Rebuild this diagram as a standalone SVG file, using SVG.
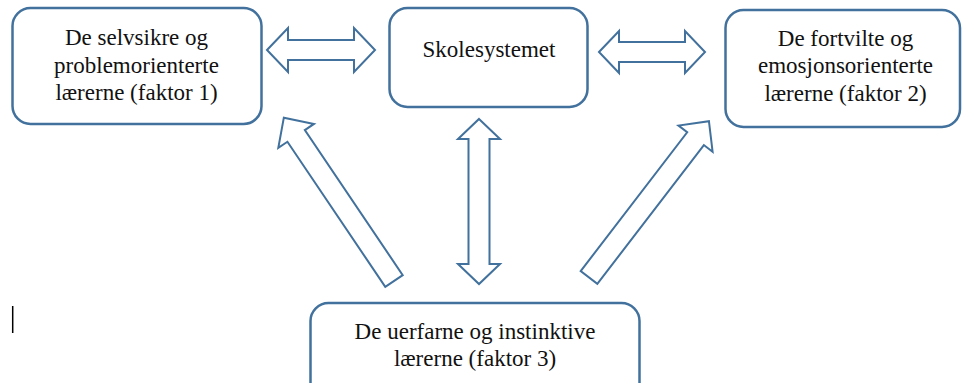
<svg xmlns="http://www.w3.org/2000/svg" width="962" height="383" viewBox="0 0 962 383">
<style>
.box{fill:#fff;stroke:#41719C;stroke-width:2.5}
.arr{fill:#fff;stroke:#41719C;stroke-width:2;stroke-linejoin:miter}
.t{font-family:"Liberation Serif","Times New Roman",serif;font-size:23px;fill:#111;text-anchor:middle}
</style>
<rect width="962" height="383" fill="#fff"/>
<g id="connectors">
<polygon class="arr" transform="translate(267,50)" points="0,0 21,-22 21,-10 87,-10 87,-22 108,0 87,22 87,10 21,10 21,22"/>
<polygon class="arr" transform="translate(599,52)" points="0,0 20,-21 20,-10 86,-10 86,-21 106,0 86,21 86,10 20,10 20,21"/>
<polygon class="arr" points="479,119 500,139 489.5,139 489.5,264 500,264 479,284 458,264 468.5,264 468.5,139 458,139"/>
<polygon class="arr" transform="translate(394,281) rotate(-124)" points="0,-10.5 175,-10.5 175,-21.5 197,0 175,21.5 175,10.5 0,10.5"/>
<polygon class="arr" transform="translate(589,277.5) rotate(-52.5)" points="0,-10.5 175,-10.5 175,-21.5 197,0 175,21.5 175,10.5 0,10.5"/>
</g>
<g id="faktor1">
<rect class="box" x="12.5" y="8" width="249" height="116" rx="18"/>
<text class="t" x="136.5" y="45">De selvsikre og</text>
<text class="t" x="136.5" y="73">problemorienterte</text>
<text class="t" x="136.5" y="100">lærerne (faktor 1)</text>
</g>
<g id="skolesystemet">
<rect class="box" x="389.5" y="8" width="198" height="99" rx="18"/>
<text class="t" x="489" y="57">Skolesystemet</text>
</g>
<g id="faktor2">
<rect class="box" x="725.5" y="10" width="234.5" height="117" rx="18"/>
<text class="t" x="845.5" y="46">De fortvilte og</text>
<text class="t" x="845.5" y="73">emosjonsorienterte</text>
<text class="t" x="845.5" y="101">lærerne (faktor 2)</text>
</g>
<g id="faktor3">
<rect class="box" x="310.5" y="303" width="329" height="110" rx="18"/>
<text class="t" x="475" y="339">De uerfarne og instinktive</text>
<text class="t" x="475" y="366">lærerne (faktor 3)</text>
</g>
<line x1="12.7" y1="306" x2="12.7" y2="333" stroke="#000" stroke-width="1.5"/>
</svg>
